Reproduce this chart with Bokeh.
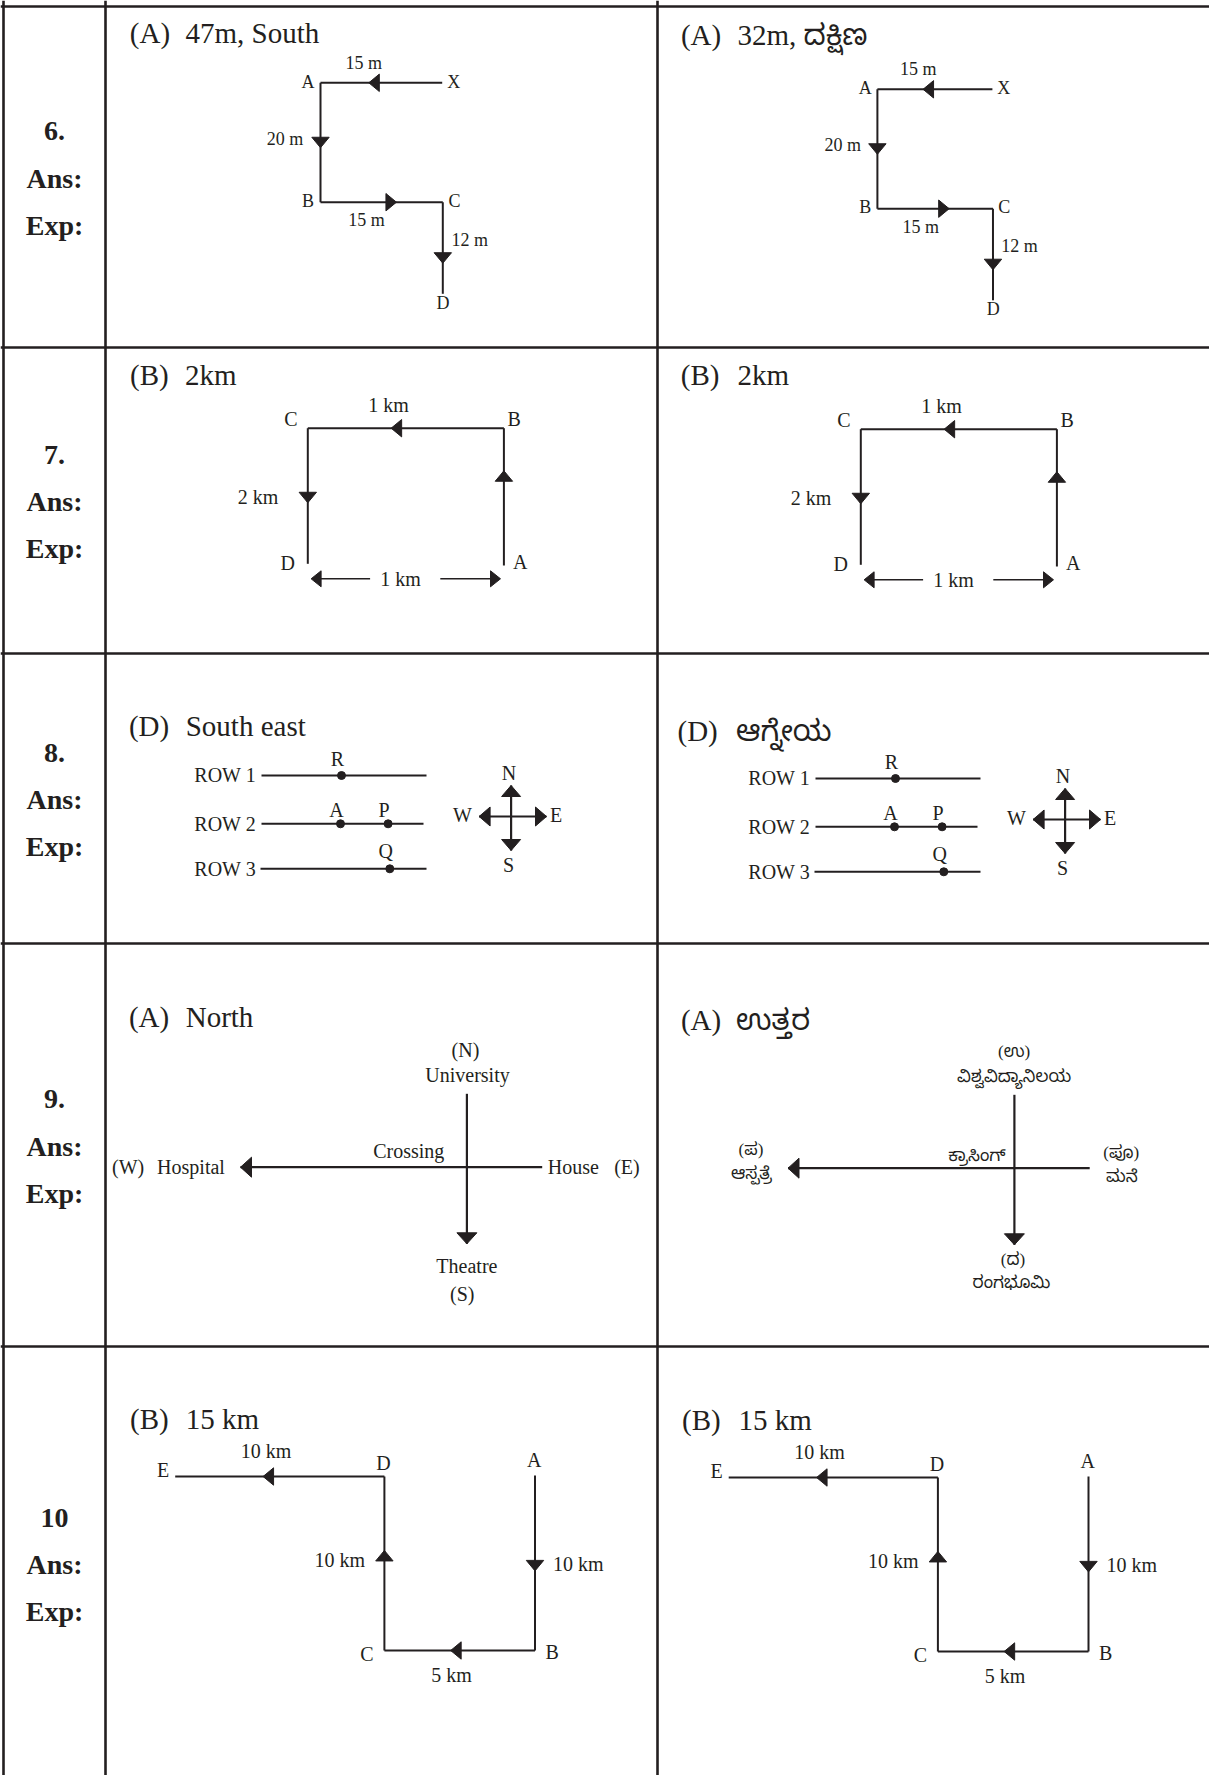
from bokeh.plotting import figure
from bokeh.models import Range1d, ColumnDataSource
from bokeh.core.properties import value
from bokeh.embed import file_html
from bokeh.resources import INLINE

# ---------------- data ----------------
QUESTION_NUMBERS = ["6.", "7.", "8.", "9.", "10"]
ROW_CAPTIONS = ["Ans:", "Exp:"]
ANSWER_LETTERS = ["(A)", "(B)", "(D)", "(A)", "(B)"]
ANSWERS_EN = ["47m, South", "2km", "South east", "North", "15 km"]
ANSWERS_KN = ["32m, ದಕ್ಷಿಣ", "2km", "ಆಗ್ನೇಯ", "ಉತ್ತರ", "15 km"]

Q6_POINTS = ["X", "A", "B", "C", "D"]
Q6_LEGS = ["15 m", "20 m", "15 m", "12 m"]

Q7_POINTS = ["A", "B", "C", "D"]
Q7_LEGS = ["2 km", "1 km", "2 km"]
Q7_SPAN = "1 km"

Q8_ROWS = ["ROW 1", "ROW 2", "ROW 3"]
Q8_MARKS = ["R", "A", "P", "Q"]
Q8_MARK_ROW = [0, 1, 1, 2]
Q8_COMPASS = ["N", "S", "W", "E"]

Q9_EN = ["(N)", "University", "Crossing", "(W)", "Hospital", "House", "(E)", "Theatre", "(S)"]
Q9_KN = ["(ಉ)", "ವಿಶ್ವವಿದ್ಯಾನಿಲಯ", "ಕ್ರಾಸಿಂಗ್", "(ಪ)", "ಆಸ್ಪತ್ರೆ", "(ಪೂ)", "ಮನೆ", "(ದ)", "ರಂಗಭೂಮಿ"]

Q10_POINTS = ["A", "B", "C", "D", "E"]
Q10_LEGS = ["10 km", "5 km", "10 km", "10 km"]

# ---------------- layout (reference pixel coordinates) ----------------
INK = "#231f20"
SERIF = "Liberation Serif"
KANNADA = "Liberation Serif, Noto Sans Kannada, Noto Serif Kannada, Lohit Kannada, Tunga"
TEXT_SHIFT = 0.35   # em, baseline correction

ROW_EDGES = [6, 347, 653, 943, 1346, 1790]
COL_X = [3, 105, 657]

W, H = 1209, 1775
p = figure(width=W, height=H, x_range=Range1d(0, W), y_range=Range1d(H, 0),
           output_backend="svg", toolbar_location=None, x_axis_location=None,
           y_axis_location=None, min_border=0, outline_line_color=None,
           background_fill_color="white", border_fill_color="white")
p.grid.visible = False

segs = {"x0": [], "y0": [], "x1": [], "y1": [], "w": []}
heads_x, heads_y = [], []
dots_x, dots_y = [], []


def seg(a, b, w=2.0):
    segs["x0"].append(a[0]); segs["y0"].append(a[1])
    segs["x1"].append(b[0]); segs["y1"].append(b[1]); segs["w"].append(w)


def head(tip, d, L=10.5, Wd=8.7):
    tx, ty = tip
    if d == "L":
        xs, ys = [tx, tx + L, tx + L], [ty, ty - Wd, ty + Wd]
    elif d == "R":
        xs, ys = [tx, tx - L, tx - L], [ty, ty - Wd, ty + Wd]
    elif d == "U":
        xs, ys = [tx, tx - Wd, tx + Wd], [ty, ty + L, ty + L]
    else:
        xs, ys = [tx, tx - Wd, tx + Wd], [ty, ty - L, ty - L]
    heads_x.append(xs); heads_y.append(ys)


def direction(a, b):
    if abs(a[0] - b[0]) > abs(a[1] - b[1]):
        return "R" if b[0] > a[0] else "L"
    return "D" if b[1] > a[1] else "U"


def leg(a, b, frac, w=2.0):
    seg(a, b, w)
    tip = (a[0] + (b[0] - a[0]) * frac, a[1] + (b[1] - a[1]) * frac)
    head(tip, direction(a, b))


def txt(x, y, s, size, align="center", face=SERIF, style="normal"):
    p.text(x=[x], y=[y - TEXT_SHIFT * size], text=[s], text_font=value(face),
           text_font_size=f"{size}px", text_align=align, text_baseline="alphabetic",
           text_color=INK, text_font_style=style)


def make_tf(dx=0.0, dy=0.0, sx=1.0, ax=0.0):
    return lambda x, y: (ax + dx + (x - ax) * sx, y + dy)


# ---------------- table grid ----------------
for y in ROW_EDGES[:5]:
    seg((0, y), (1215, y), 2.6)
for x in COL_X:
    seg((x, 0), (x, 1800), 2.6)

# left column: number / Ans: / Exp:
for i, q in enumerate(QUESTION_NUMBERS):
    mid = (ROW_EDGES[i] + min(ROW_EDGES[i + 1], 1780)) / 2 + 11
    for j, s in enumerate([q] + ROW_CAPTIONS):
        txt(54, mid + (j - 1) * 47, s, 28, "center", SERIF, "bold")

# answers
TITLE_L = [(129.3, 185, 43), (129.6, 184.4, 384.3), (128.4, 185.2, 736), (128.4, 185.2, 1026.7), (129.6, 185.2, 1428.3)]
TITLE_R = [(680.4, 737, 45), (680.3, 737, 385), (677, 735.5, 740.7), (680.4, 735.5, 1030), (681.5, 738, 1429.3)]
for i in range(5):
    xl, xr, yb = TITLE_L[i]
    txt(xl, yb, ANSWER_LETTERS[i], 29, "left")
    txt(xr, yb, ANSWERS_EN[i], 29, "left")
    xl, xr, yb = TITLE_R[i]
    txt(xl, yb, ANSWER_LETTERS[i], 29, "left")
    txt(xr, yb, ANSWERS_KN[i], 29, "left", KANNADA)

# ---------------- Q6 ----------------
Q6_NODES = [(441.7, 82.3), (320, 82.3), (320, 201.7), (442.3, 201.7), (442.3, 293.3)]
Q6_FRACS = [0.603, 0.544, 0.621, 0.666]
Q6_POINT_POS = [(446.7, 87.7, "left"), (314, 87.7, "right"), (313.5, 206.7, "right"),
                (448, 206.7, "left"), (442.5, 308.3, "center")]
Q6_LEG_POS = [(363.3, 68.3, "center"), (302.7, 144.3, "right"), (366, 226, "center"), (451, 245.7, "left")]
for tf in [make_tf(), make_tf(556.9, 6.5, 0.945, 320)]:
    nodes = [tf(*n) for n in Q6_NODES]
    for k in range(4):
        leg(nodes[k], nodes[k + 1], Q6_FRACS[k])
    for name, (x, y, al) in zip(Q6_POINTS, Q6_POINT_POS):
        txt(*tf(x, y), name, 18, al)
    for name, (x, y, al) in zip(Q6_LEGS, Q6_LEG_POS):
        txt(*tf(x, y), name, 18, al)

# ---------------- Q7 ----------------
Q7_NODES = [(503.4, 565), (503.4, 427.7), (307.3, 427.7), (307.3, 563.3)]
Q7_FRACS = [0.69, 0.575, 0.55]
Q7_POINT_POS = [(512.6, 568.3, "left"), (507, 425, "left"), (290.5, 425, "center"), (287.3, 569, "center")]
Q7_LEG_POS = [None, (388, 411, "center"), (277.8, 503.3, "right")]
for tf in [make_tf(), make_tf(553, 1)]:
    nodes = [tf(*n) for n in Q7_NODES]
    for k in range(3):
        leg(nodes[k], nodes[k + 1], Q7_FRACS[k])
    for name, (x, y, al) in zip(Q7_POINTS, Q7_POINT_POS):
        txt(*tf(x, y), name, 20, al)
    for name, pos in zip(Q7_LEGS, Q7_LEG_POS):
        if pos:
            txt(*tf(pos[0], pos[1]), name, 20, pos[2])
    # span arrow D <-> A
    seg(tf(320, 578.3), tf(369.6, 578.3), 1.5)
    seg(tf(439.8, 578.3), tf(490, 578.3), 1.5)
    head(tf(310.6, 578.3), "L", 10, 8)
    head(tf(500, 578.3), "R", 10, 8)
    txt(*tf(400, 585), Q7_SPAN, 20, "center")

# ---------------- Q8 ----------------
Q8_ROW_Y = [775, 823.3, 868.3]
Q8_ROW_X0 = [261, 261, 260]
Q8_ROW_X1 = [426, 423, 426]
Q8_MARK_X = [341, 340, 387.6, 389.3]
Q8_MARK_LABEL_DY = [-10, -6.6, -6.6, -11.3]
Q8_CENTER = (510.6, 816)
Q8_TIPS = [(510.6, 785), (510.6, 850), (478.6, 816), (546, 816)]
Q8_LABEL_POS = [(508.5, 779.3), (508, 871), (462, 821.7), (555.6, 821.7)]
for tf in [make_tf(), make_tf(554, 3)]:
    for r, name in enumerate(Q8_ROWS):
        seg(tf(Q8_ROW_X0[r], Q8_ROW_Y[r]), tf(Q8_ROW_X1[r], Q8_ROW_Y[r]), 2.0)
        txt(*tf(255.5, Q8_ROW_Y[r] + 6.7), name, 20, "right")
    for name, r, x, dy in zip(Q8_MARKS, Q8_MARK_ROW, Q8_MARK_X, Q8_MARK_LABEL_DY):
        dx_, dy_ = tf(x, Q8_ROW_Y[r])
        dots_x.append(dx_); dots_y.append(dy_)
        txt(*tf(x - 4, Q8_ROW_Y[r] + dy), name, 20, "center")
    c = tf(*Q8_CENTER)
    for name, t, lp, d in zip(Q8_COMPASS, Q8_TIPS, Q8_LABEL_POS, ["U", "D", "L", "R"]):
        tt = tf(*t)
        seg(c, tt, 2.2)
        head(tt, d, 11, 9.5)
        txt(*tf(*lp), name, 20, "center")

# ---------------- Q9 ----------------
for tf in [make_tf(), make_tf(547.5, 1)]:
    top = tf(466.4, 1093.3)
    bot = tf(466.4, 1243.3)
    seg(top, bot, 2.2)
    head(bot, "D", 11, 10)
    east = tf(541.7, 1166.7)
    west = tf(240, 1166.7)
    seg(east, west, 2.2)
    head(west, "L", 11, 10)

EN9_POS = [(465, 1056.7, "center"), (467, 1081.7, "center"), (408.3, 1157.3, "center"),
           (111.5, 1173.3, "left"), (156.6, 1173.3, "left"), (547.2, 1173.3, "left"),
           (613.7, 1173.3, "left"), (466.4, 1272.7, "center"), (461.7, 1300, "center")]
for s, (x, y, al) in zip(Q9_EN, EN9_POS):
    txt(x, y, s, 20, al)
KN9_POS = [(1013.6, 1056.7), (1013.6, 1081.7), (976.5, 1160.7), (750.4, 1155), (751, 1179.3),
           (1120.7, 1158.3), (1121.4, 1181.7), (1012.5, 1265), (1011, 1288.3)]
for s, (x, y) in zip(Q9_KN, KN9_POS):
    txt(x, y, s, 17, "center", KANNADA)

# ---------------- Q10 ----------------
Q10_NODES = [(534.5, 1475), (534.5, 1650), (383.9, 1650), (383.9, 1476), (174.7, 1476)]
Q10_FRACS = [0.545, 0.56, 0.575, 0.58]
Q10_POINT_POS = [(533.7, 1466.7, "center"), (545, 1658.3, "left"), (373, 1660, "right"),
                 (383, 1469.3, "center"), (162.5, 1476.7, "center")]
Q10_LEG_POS = [(552.6, 1570, "left"), (451, 1681.7, "center"), (364.5, 1566, "right"), (265.5, 1457.3, "center")]
for tf in [make_tf(), make_tf(553.5, 1)]:
    nodes = [tf(*n) for n in Q10_NODES]
    for k in range(4):
        leg(nodes[k], nodes[k + 1], Q10_FRACS[k])
    for name, (x, y, al) in zip(Q10_POINTS, Q10_POINT_POS):
        txt(*tf(x, y), name, 20, al)
    for name, (x, y, al) in zip(Q10_LEGS, Q10_LEG_POS):
        txt(*tf(x, y), name, 20, al)

# ---------------- render marks ----------------
src = ColumnDataSource(dict(x0=segs["x0"], y0=segs["y0"], x1=segs["x1"], y1=segs["y1"], w=segs["w"]))
p.segment(x0="x0", y0="y0", x1="x1", y1="y1", line_width="w", line_color=INK, source=src)
p.patches(xs=heads_x, ys=heads_y, fill_color=INK, line_color=INK, line_width=1)
p.scatter(x=dots_x, y=dots_y, size=8, fill_color=INK, line_color=INK)

open("out.html", "w").write(file_html(p, INLINE))
